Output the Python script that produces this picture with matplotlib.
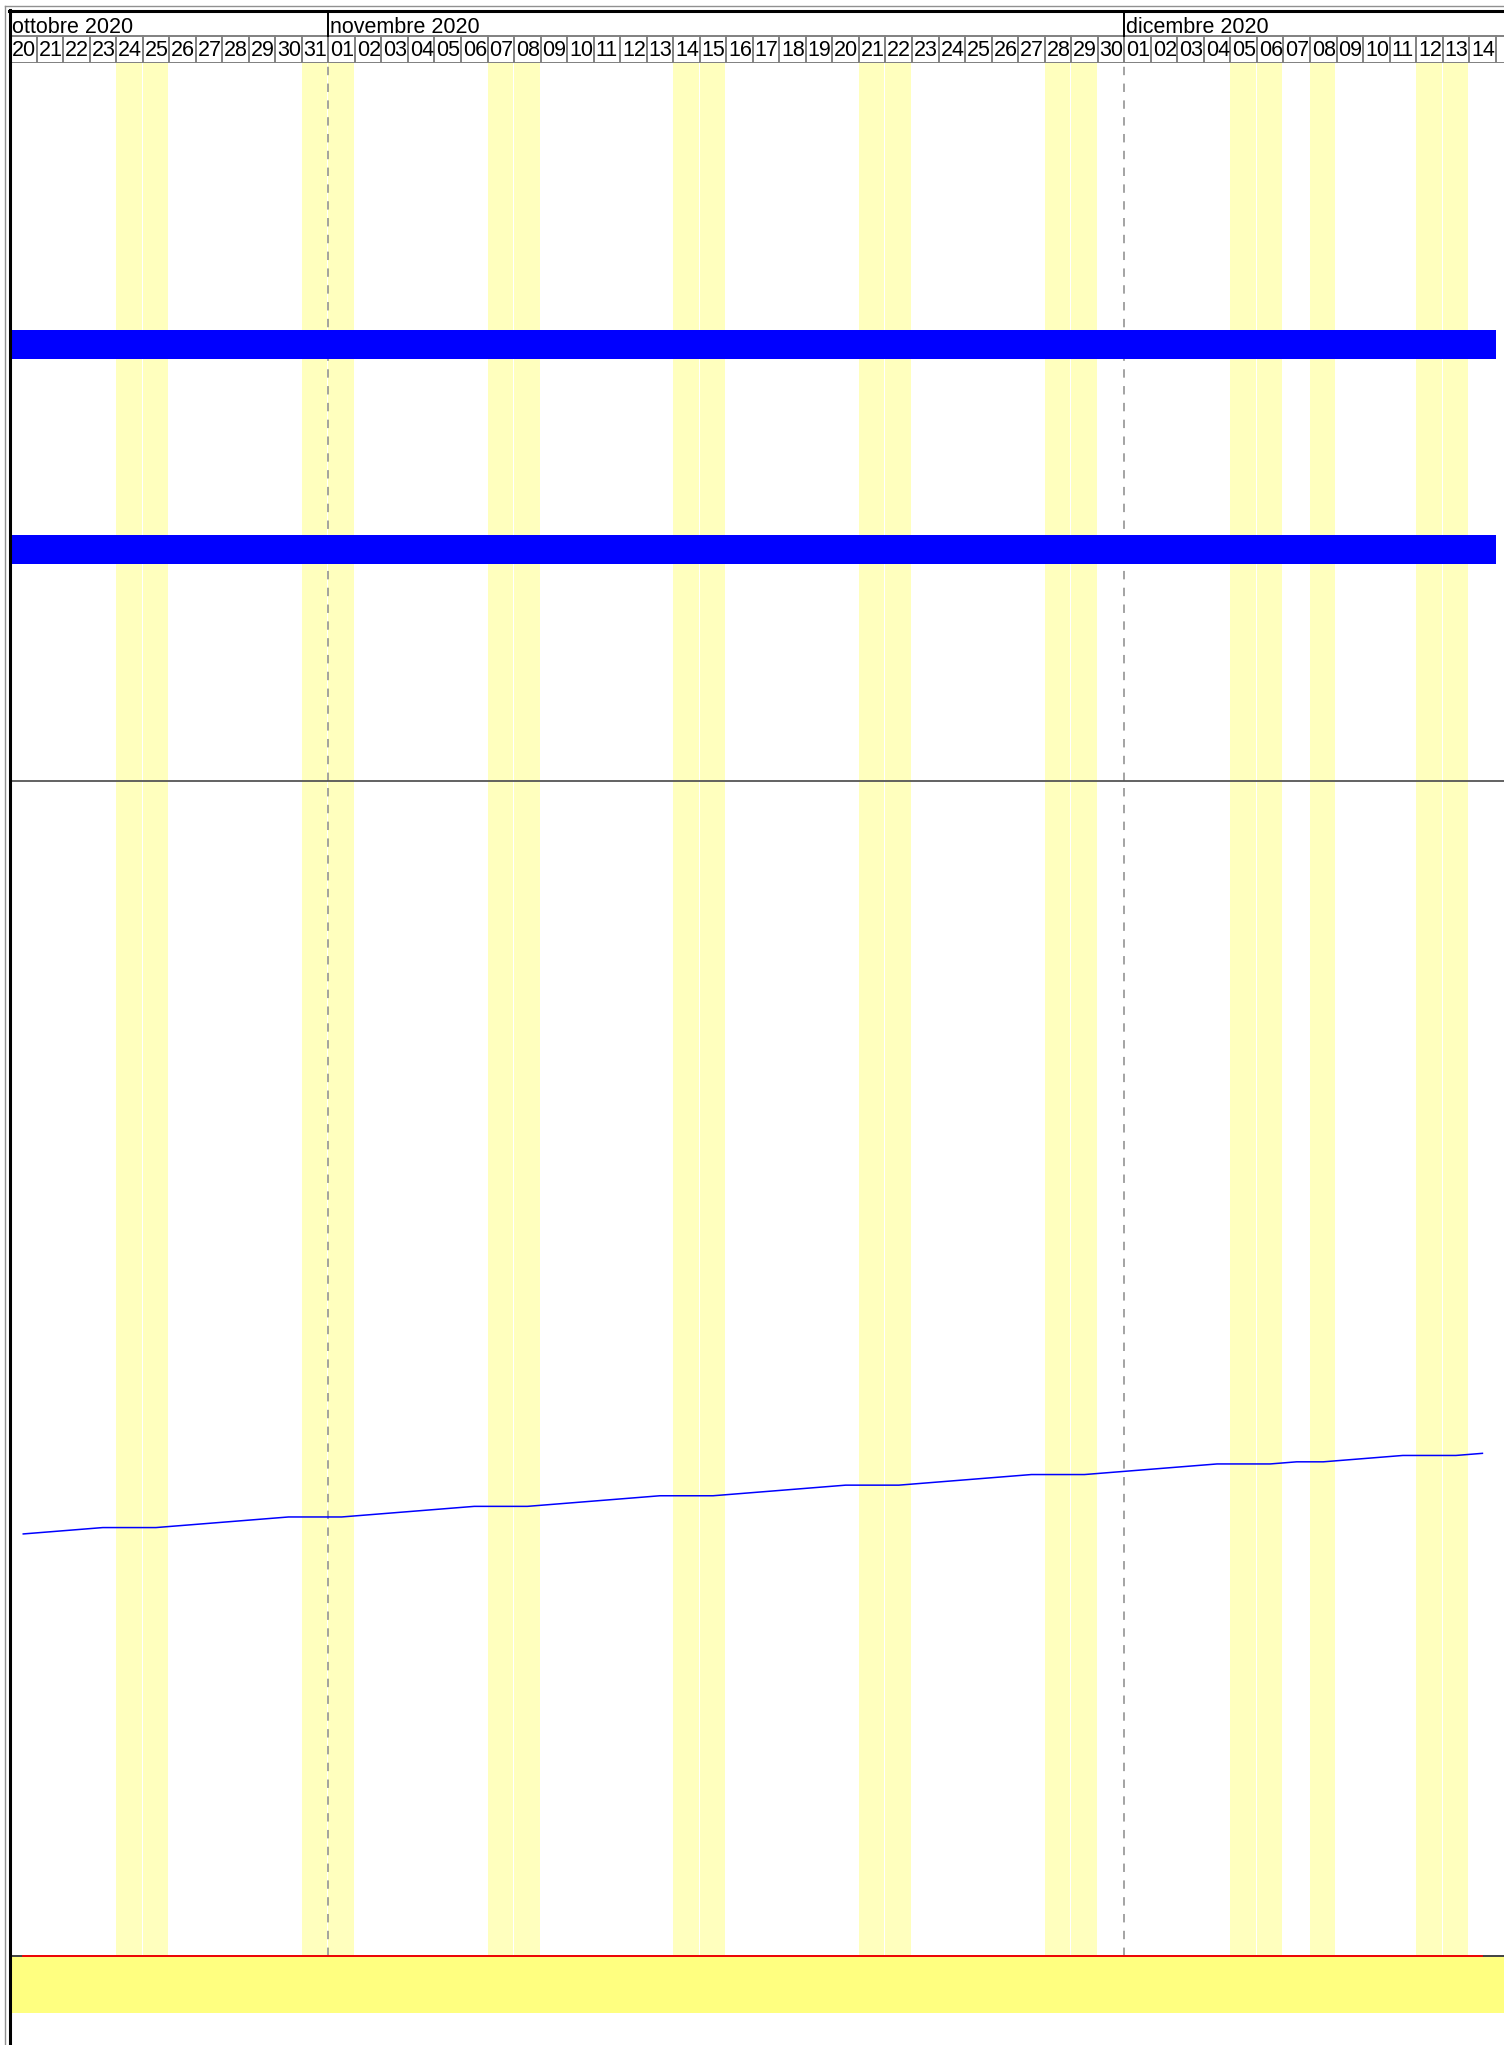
import matplotlib
matplotlib.use("Agg")
import matplotlib.pyplot as plt
from matplotlib.lines import Line2D
import pandas as pd

plt.rcParams['font.family'] = ['Liberation Sans', 'DejaVu Sans']

# --- data ---
start_day = "2020-10-20"
end_day = "2020-12-14"
month_labels = ["ottobre 2020", "novembre 2020", "dicembre 2020"]
month_starts = ["2020-10-20", "2020-11-01", "2020-12-01"]
month_breaks = ["2020-11-01", "2020-12-01"]
festivi = ["2020-10-24", "2020-10-25", "2020-10-31", "2020-11-01",
           "2020-11-07", "2020-11-08", "2020-11-14", "2020-11-15",
           "2020-11-21", "2020-11-22", "2020-11-28", "2020-11-29",
           "2020-12-05", "2020-12-06", "2020-12-08", "2020-12-12",
           "2020-12-13"]
bar_rows = [0, 1]
bar_start = ["2020-10-20", "2020-10-20"]
bar_end = ["2020-12-15", "2020-12-15"]
line_values = [199, 200, 201, 202, 202, 202, 203, 204, 205, 206,
               207, 207, 207, 208, 209, 210, 211, 212, 212, 212,
               213, 214, 215, 216, 217, 217, 217, 218, 219, 220,
               221, 222, 222, 222, 223, 224, 225, 226, 227, 227,
               227, 228, 229, 230, 231, 232, 232, 232, 233, 233,
               234, 235, 236, 236, 236, 237]
soglia = [0] * 56

days = pd.date_range(start_day, end_day, freq="D")
t0 = days[0]
def di(d):
    return (pd.Timestamp(d) - t0).days

W, H = 1504, 2045
fig = plt.figure(figsize=(W / 100, H / 100), dpi=100)

def box(l, t, r, b):
    return [l / W, 1 - b / H, (r - l) / W, (b - t) / H]

DAYW = 26.53
XMAX = (W - 10) / DAYW

# header
axh = fig.add_axes(box(10, 12, W, 63))
axh.set_xlim(0, XMAX)
axh.set_ylim(0, 51)
axh.axis("off")
axh.axhline(27, color="#808080", lw=1.4)
axh.axhline(0.5, color="#808080", lw=1.4)
for i in range(len(days) + 2):
    axh.plot([i, i], [0, 27], color="#808080", lw=1.4)
for i, d in enumerate(days):
    axh.text(i + 0.07, 6.5, d.strftime("%d"), fontsize=15.5, va="baseline", ha="left")
for lab, ms in zip(month_labels, month_starts):
    x = di(ms)
    if x > 0:
        axh.plot([x, x], [27, 51], color="black", lw=1.4)
    axh.text(x + 0.07, 30, lab, fontsize=15.5, va="baseline", ha="left")

# top panel with bars
ax1 = fig.add_axes(box(10, 63, W, 781))
ax2 = fig.add_axes(box(10, 781, W, 1956))
for ax in (ax1, ax2):
    ax.set_xlim(0, XMAX)
    ax.set_xticks([])
    ax.set_yticks([])
    for s in ax.spines.values():
        s.set_visible(False)
    for f in festivi:
        x = di(f)
        ax.axvspan(x, x + 0.96, color="#FFFFBE", lw=0, zorder=0)
    for mb in month_breaks:
        ax.axvline(di(mb), color="#8a8a8a", lw=1.1, ls=(0, (5.5, 5.5)), zorder=1)

ax1.set_ylim(2.129, -1.373)
for r, s, e in zip(bar_rows, bar_start, bar_end):
    ax1.barh(r, di(e) - di(s), left=di(s), height=0.1415, color="#0000FF", zorder=3)

# line panel
ax2.set_ylim(0, 554)
ax2.spines["top"].set_visible(True)
ax2.spines["top"].set_color("#555555")
ax2.spines["top"].set_linewidth(1.3)
ax2.spines["bottom"].set_visible(True)
ax2.spines["bottom"].set_color("#333333")
ax2.spines["bottom"].set_linewidth(1.3)
xc = [i + 0.5 for i in range(len(days))]
ax2.plot(xc, line_values, color="#0000FF", lw=1.1, zorder=3)
ax2.plot(xc, soglia, color="red", lw=1.3, zorder=4, clip_on=False)

# yellow band
ax3 = fig.add_axes(box(10, 1957, W, 2013))
ax3.set_xlim(0, XMAX)
ax3.axis("off")
ax3.axvspan(0, XMAX, color="#FFFF80", lw=0)

# frame lines
fig.add_artist(Line2D([5 / W, 5 / W], [0, 1 - 6 / H], color="#909090", lw=1.0, transform=fig.transFigure))
fig.add_artist(Line2D([5 / W, 1], [1 - 6 / H, 1 - 6 / H], color="#909090", lw=1.0, transform=fig.transFigure))
fig.add_artist(Line2D([10 / W, 10 / W], [0, 1 - 10 / H], color="black", lw=2.2, transform=fig.transFigure))
fig.add_artist(Line2D([9 / W, 1], [1 - 11 / H, 1 - 11 / H], color="black", lw=2.2, transform=fig.transFigure))

fig.savefig("out.png", dpi=100)
